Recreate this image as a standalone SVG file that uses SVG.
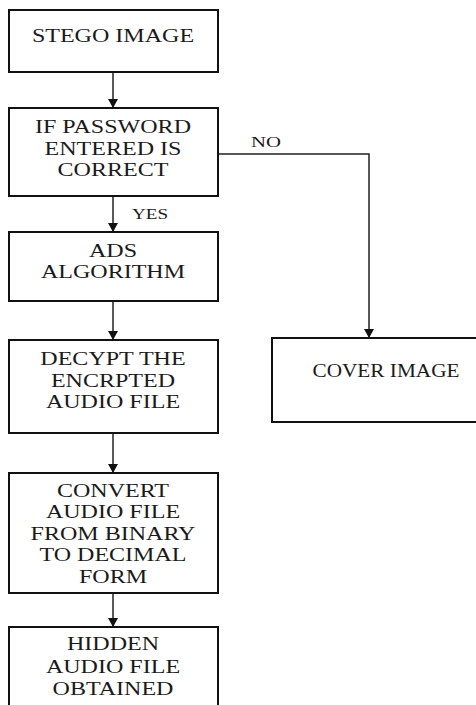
<svg xmlns="http://www.w3.org/2000/svg" width="476" height="705" viewBox="0 0 476 705">
  <style>
    .box { fill: #fff; stroke: #111; stroke-width: 2; }
    .lbl { font-family: "Liberation Serif", "Times New Roman", serif; font-size: 18.5px; fill: #1a1a1a; text-anchor: middle; }
    .edge { fill: none; stroke: #222; stroke-width: 1.5; }
    .tag { font-family: "Liberation Serif", "Times New Roman", serif; font-size: 14px; fill: #1a1a1a; }
  </style>
  <defs>
    <marker id="arrow" markerUnits="userSpaceOnUse" markerWidth="10" markerHeight="10" refX="9" refY="5" orient="auto">
      <path d="M0,0 L9,5 L0,10 Z" fill="#111"/>
    </marker>
  </defs>
  <rect width="476" height="705" fill="#fff"/>

  <g id="connectors">
    <line class="edge" x1="113" y1="72" x2="113" y2="108" marker-end="url(#arrow)"/>
    <line class="edge" x1="113" y1="196" x2="113" y2="232" marker-end="url(#arrow)"/>
    <line class="edge" x1="113" y1="301" x2="113" y2="340" marker-end="url(#arrow)"/>
    <line class="edge" x1="113" y1="433" x2="113" y2="473" marker-end="url(#arrow)"/>
    <line class="edge" x1="113" y1="593" x2="113" y2="627" marker-end="url(#arrow)"/>
    <path class="edge" d="M218,154 H369 V338" marker-end="url(#arrow)"/>
    <text class="tag" x="132" y="219" textLength="36" lengthAdjust="spacingAndGlyphs">YES</text>
    <text class="tag" x="251" y="147" textLength="30" lengthAdjust="spacingAndGlyphs">NO</text>
  </g>

  <!-- left-column labels are widened 1.3x about the column centre x=113 -->
  <g id="stego-image">
    <rect class="box" x="9" y="10" width="209" height="62"/>
    <g transform="matrix(1.3 0 0 1 -33.9 0)">
      <text class="lbl" x="113" y="42">STEGO IMAGE</text>
    </g>
  </g>

  <g id="password-check">
    <rect class="box" x="9" y="108" width="209" height="88"/>
    <g transform="matrix(1.3 0 0 1 -33.9 0)">
      <text class="lbl" x="113" y="133">IF PASSWORD</text>
      <text class="lbl" x="113" y="155">ENTERED IS</text>
      <text class="lbl" x="113" y="176">CORRECT</text>
    </g>
  </g>

  <g id="ads-algorithm">
    <rect class="box" x="9" y="232" width="209" height="69"/>
    <g transform="matrix(1.3 0 0 1 -33.9 0)">
      <text class="lbl" x="113" y="257">ADS</text>
      <text class="lbl" x="113" y="278">ALGORITHM</text>
    </g>
  </g>

  <g id="decrypt-audio">
    <rect class="box" x="9" y="340" width="209" height="93"/>
    <g transform="matrix(1.3 0 0 1 -33.9 0)">
      <text class="lbl" x="113" y="365">DECYPT THE</text>
      <text class="lbl" x="113" y="387">ENCRPTED</text>
      <text class="lbl" x="113" y="408">AUDIO FILE</text>
    </g>
  </g>

  <g id="convert-audio">
    <rect class="box" x="9" y="473" width="209" height="120"/>
    <g transform="matrix(1.3 0 0 1 -33.9 0)">
      <text class="lbl" x="113" y="497">CONVERT</text>
      <text class="lbl" x="113" y="518">AUDIO FILE</text>
      <text class="lbl" x="113" y="540">FROM BINARY</text>
      <text class="lbl" x="113" y="561">TO DECIMAL</text>
      <text class="lbl" x="113" y="583">FORM</text>
    </g>
  </g>

  <g id="hidden-audio">
    <rect class="box" x="9" y="627" width="209" height="100"/>
    <g transform="matrix(1.3 0 0 1 -33.9 0)">
      <text class="lbl" x="113" y="650">HIDDEN</text>
      <text class="lbl" x="113" y="673">AUDIO FILE</text>
      <text class="lbl" x="113" y="695">OBTAINED</text>
    </g>
  </g>

  <g id="cover-image">
    <rect class="box" x="272" y="338" width="220" height="84"/>
    <text class="lbl" x="386" y="377" textLength="147" lengthAdjust="spacingAndGlyphs">COVER IMAGE</text>
  </g>
</svg>
